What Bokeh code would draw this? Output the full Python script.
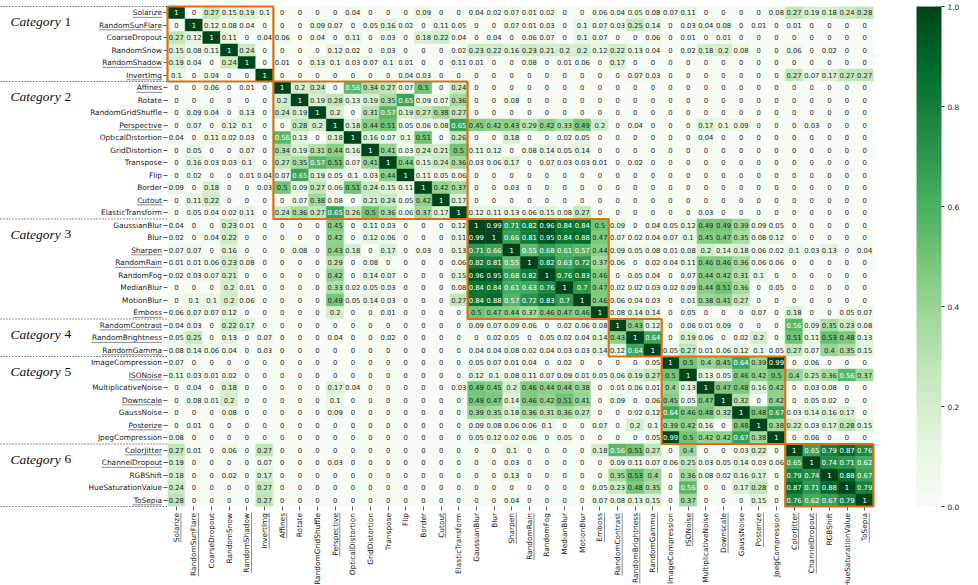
import math
import numpy as np
from bokeh.plotting import figure
from bokeh.models import (ColumnDataSource, LinearColorMapper, ColorBar, FixedTicker,
                          Range1d, PrintfTickFormatter)
from bokeh.core.properties import value
from bokeh.embed import file_html
from bokeh.resources import INLINE

# ---------------- data ----------------
labels = ["Solarize", "RandomSunFlare", "CoarseDropout", "RandomSnow", "RandomShadow", "InvertImg",
          "Affines", "Rotate", "RandomGridShuffle", "Perspective", "OpticalDistortion", "GridDistortion",
          "Transpose", "Flip", "Border", "Cutout", "ElasticTransform",
          "GaussianBlur", "Blur", "Sharpen", "RandomRain", "RandomFog", "MedianBlur", "MotionBlur", "Emboss",
          "RandomContrast", "RandomBrightness", "RandomGamma",
          "ImageCompression", "ISONoise", "MultiplicativeNoise", "Downscale", "GaussNoise", "Posterize",
          "JpegCompression",
          "ColorJitter", "ChannelDropout", "RGBShift", "HueSaturationValue", "ToSepia"]

underlined = ["Solarize", "RandomSunFlare", "RandomShadow", "InvertImg", "Affines", "Perspective", "Cutout",
              "Sharpen", "RandomRain", "Emboss", "RandomContrast", "RandomBrightness", "RandomGamma",
              "ISONoise", "Downscale", "Posterize", "ColorJitter", "ChannelDropout", "ToSepia"]

category_names = ["Category", "Category", "Category", "Category", "Category", "Category"]
category_numbers = ["1", "2", "3", "4", "5", "6"]
category_first = [0, 6, 17, 25, 28, 35]
category_last = [5, 16, 24, 27, 34, 39]

colorbar_ticks = [0.0, 0.2, 0.4, 0.6, 0.8, 1.0]

# lower triangle of the (symmetric) matrix, one row per label
lower_rows = [
    [1],
    [0, 1],
    [0.27, 0.12, 1],
    [0.15, 0.08, 0.11, 1],
    [0.19, 0.04, 0, 0.24, 1],
    [0.1, 0, 0.04, 0, 0, 1],
    [0, 0, 0.06, 0, 0.01, 0, 1],
    [0, 0, 0, 0, 0, 0, 0.2, 1],
    [0, 0.09, 0.04, 0, 0.13, 0, 0.24, 0.19, 1],
    [0, 0.07, 0, 0.12, 0.1, 0, 0, 0.28, 0.2, 1],
    [0.04, 0, 0.11, 0.02, 0.03, 0, 0.56, 0.13, 0, 0.18, 1],
    [0, 0.05, 0, 0, 0.07, 0, 0.34, 0.19, 0.31, 0.44, 0.16, 1],
    [0, 0.16, 0.03, 0.03, 0.1, 0, 0.27, 0.35, 0.57, 0.51, 0.07, 0.41, 1],
    [0, 0.02, 0, 0, 0.01, 0.04, 0.07, 0.65, 0.19, 0.05, 0.1, 0.03, 0.44, 1],
    [0.09, 0, 0.18, 0, 0, 0.03, 0.5, 0.09, 0.27, 0.06, 0.51, 0.24, 0.15, 0.11, 1],
    [0, 0.11, 0.22, 0, 0, 0, 0, 0.07, 0.38, 0.08, 0, 0.21, 0.24, 0.05, 0.42, 1],
    [0, 0.05, 0.04, 0.02, 0.11, 0, 0.24, 0.36, 0.27, 0.65, 0.26, 0.5, 0.36, 0.06, 0.37, 0.17, 1],
    [0.04, 0, 0, 0.23, 0.01, 0, 0, 0, 0, 0.45, 0, 0.11, 0.03, 0, 0, 0, 0.12, 1],
    [0.02, 0, 0.04, 0.22, 0, 0, 0, 0, 0, 0.42, 0, 0.12, 0.06, 0, 0, 0, 0.11, 0.99, 1],
    [0.07, 0.07, 0, 0.16, 0, 0, 0, 0.08, 0, 0.43, 0.18, 0, 0.17, 0, 0.03, 0, 0.13, 0.71, 0.66, 1],
    [0.01, 0.01, 0.06, 0.23, 0.08, 0, 0, 0, 0, 0.29, 0, 0.08, 0, 0, 0, 0, 0.06, 0.82, 0.81, 0.55, 1],
    [0.02, 0.03, 0.07, 0.21, 0, 0, 0, 0, 0, 0.42, 0, 0.14, 0.07, 0, 0, 0, 0.15, 0.96, 0.95, 0.68, 0.82, 1],
    [0, 0, 0, 0.2, 0.01, 0, 0, 0, 0, 0.33, 0.02, 0.05, 0.03, 0, 0, 0, 0.08, 0.84, 0.84, 0.61, 0.63, 0.76, 1],
    [0, 0.1, 0.1, 0.2, 0.06, 0, 0, 0, 0, 0.49, 0.05, 0.14, 0.03, 0, 0, 0, 0.27, 0.84, 0.88, 0.57, 0.72, 0.83,
     0.7, 1],
    [0.06, 0.07, 0.07, 0.12, 0, 0, 0, 0, 0, 0.2, 0, 0, 0.01, 0, 0, 0, 0, 0.5, 0.47, 0.44, 0.37, 0.46, 0.47,
     0.46, 1],
    [0.04, 0.03, 0, 0.22, 0.17, 0, 0, 0, 0, 0, 0, 0, 0, 0, 0, 0, 0, 0.09, 0.07, 0.09, 0.06, 0, 0.02, 0.06,
     0.08, 1],
    [0.05, 0.25, 0, 0.13, 0, 0.07, 0, 0, 0, 0.04, 0, 0, 0.02, 0, 0, 0, 0, 0, 0.02, 0.05, 0, 0.05, 0.02, 0.04,
     0.14, 0.43, 1],
    [0.08, 0.14, 0.06, 0.04, 0, 0.03, 0, 0, 0, 0, 0, 0, 0, 0, 0, 0, 0, 0.04, 0.04, 0.08, 0.02, 0.04, 0.03,
     0.03, 0.14, 0.12, 0.64, 1],
    [0.07, 0, 0, 0, 0, 0, 0, 0, 0, 0, 0, 0, 0, 0, 0, 0, 0, 0.05, 0.07, 0.01, 0.04, 0, 0.02, 0, 0, 0, 0,
     0.05, 1],
    [0.11, 0.03, 0.01, 0.02, 0, 0, 0, 0, 0, 0, 0, 0, 0, 0, 0, 0, 0, 0.12, 0.1, 0.08, 0.11, 0.07, 0.09, 0.01,
     0.05, 0.06, 0.19, 0.27, 0.5, 1],
    [0, 0.04, 0, 0.18, 0, 0, 0, 0, 0, 0.17, 0.04, 0, 0, 0, 0, 0, 0.03, 0.49, 0.45, 0.2, 0.46, 0.44, 0.44,
     0.38, 0, 0.01, 0.06, 0.01, 0.4, 0.13, 1],
    [0, 0.08, 0.01, 0.2, 0, 0, 0, 0, 0, 0.1, 0, 0, 0, 0, 0, 0, 0, 0.49, 0.47, 0.14, 0.46, 0.42, 0.51, 0.41,
     0, 0.09, 0, 0.06, 0.45, 0.05, 0.47, 1],
    [0, 0, 0, 0.08, 0, 0, 0, 0, 0, 0.09, 0, 0, 0, 0, 0, 0, 0, 0.39, 0.35, 0.18, 0.36, 0.31, 0.36, 0.27, 0,
     0, 0.02, 0.12, 0.64, 0.46, 0.48, 0.32, 1],
    [0, 0.01, 0, 0, 0, 0, 0, 0, 0, 0, 0, 0, 0, 0, 0, 0, 0, 0.09, 0.08, 0.06, 0.06, 0.1, 0, 0, 0.07, 0, 0.2,
     0.1, 0.39, 0.42, 0.16, 0, 0.48, 1],
    [0.08, 0, 0, 0, 0, 0, 0, 0, 0, 0, 0, 0, 0, 0, 0, 0, 0, 0.05, 0.12, 0.02, 0.06, 0, 0.05, 0, 0, 0, 0,
     0.05, 0.99, 0.5, 0.42, 0.42, 0.67, 0.38, 1],
    [0.27, 0.01, 0, 0.06, 0, 0.27, 0, 0, 0, 0, 0, 0, 0, 0, 0, 0, 0, 0, 0, 0.1, 0, 0, 0, 0, 0.18, 0.56, 0.51,
     0.27, 0, 0.4, 0, 0, 0.03, 0.22, 0, 1],
    [0.19, 0, 0, 0, 0, 0.07, 0, 0, 0, 0.03, 0, 0, 0, 0, 0, 0, 0, 0, 0, 0.03, 0, 0, 0, 0, 0, 0.09, 0.11,
     0.07, 0.06, 0.25, 0.03, 0.05, 0.14, 0.03, 0.06, 0.65, 1],
    [0.18, 0, 0, 0.02, 0, 0.17, 0, 0, 0, 0, 0, 0, 0, 0, 0, 0, 0, 0, 0, 0.13, 0, 0, 0, 0, 0, 0.35, 0.53,
     0.4, 0, 0.36, 0.08, 0.02, 0.16, 0.17, 0, 0.79, 0.74, 1],
    [0.24, 0, 0, 0, 0, 0.27, 0, 0, 0, 0, 0, 0, 0, 0, 0, 0, 0, 0, 0, 0, 0, 0, 0, 0, 0.05, 0.23, 0.48,
     0.35, 0, 0.56, 0, 0, 0.17, 0.28, 0, 0.87, 0.71, 0.88, 1],
    [0.28, 0, 0, 0, 0, 0.27, 0, 0, 0, 0, 0, 0, 0, 0, 0, 0, 0, 0, 0, 0.04, 0, 0, 0, 0, 0.07, 0.08, 0.13,
     0.15, 0, 0.37, 0, 0, 0, 0.15, 0, 0.76, 0.62, 0.67, 0.79, 1],
]

N = len(labels)
M = np.zeros((N, N))
for i, row in enumerate(lower_rows):
    for j, v in enumerate(row):
        M[i, j] = v
        M[j, i] = v

# ---------------- styling helpers ----------------
greens_stops = ['#f7fcf5', '#e5f5e0', '#c7e9c0', '#a1d99b', '#74c476',
                '#41ab5d', '#238b45', '#006d2c', '#00441b']


def hex2rgb(h):
    return tuple(int(h[k:k + 2], 16) for k in (1, 3, 5))


pal_rgb = []
for k in range(256):
    t = k / 255 * 8
    i0 = min(int(t), 7)
    f = t - i0
    a = hex2rgb(greens_stops[i0])
    b = hex2rgb(greens_stops[i0 + 1])
    pal_rgb.append(tuple(a[c] + (b[c] - a[c]) * f for c in range(3)))
palette = ['#%02x%02x%02x' % tuple(int(round(c)) for c in rgb) for rgb in pal_rgb]


def rel_lum(rgb):
    out = []
    for c in rgb:
        c = c / 255
        out.append(c / 12.92 if c <= 0.03928 else ((c + 0.055) / 1.055) ** 2.4)
    return 0.2126 * out[0] + 0.7152 * out[1] + 0.0722 * out[2]


# DejaVu Sans advance widths (per 1000 em)
CW = dict(zip("ABCDEFGHIJKLMNOPQRSTUVWXYZ",
              [684, 686, 698, 770, 632, 575, 775, 752, 295, 295, 656, 557, 863, 748, 787, 603, 787, 695,
               635, 611, 732, 684, 989, 685, 611, 685]))
CW.update(dict(zip("abcdefghijklmnopqrstuvwxyz",
                   [613, 635, 550, 635, 615, 352, 635, 634, 278, 278, 579, 278, 974, 634, 612, 635, 635, 411,
                    521, 392, 634, 592, 818, 592, 592, 525])))


def text_w(s, fs):
    return sum(CW.get(ch, 600) for ch in s) * fs / 1000.0


# ---------------- geometry ----------------
W, H = 978, 585
FL, FT, FW, FH = 167, 6, 706, 500
SX, SY = FW / N, FH / N
LBL_FS = 7.4
LBL_GAP = 5.5
UL_OFF = 4.6

p = figure(width=W, height=H, output_backend="svg", toolbar_location=None,
           x_range=Range1d(-0.5, N - 0.5), y_range=Range1d(N - 0.5, -0.5),
           min_border_left=FL, min_border_top=FT, min_border_right=W - FL - FW,
           min_border_bottom=H - FT - FH)
p.outline_line_color = None
p.grid.visible = False
p.background_fill_color = "white"
p.border_fill_color = "white"

for ax in (p.xaxis[0], p.yaxis[0]):
    ax.ticker = FixedTicker(ticks=list(range(N)))
    ax.major_label_overrides = {i: "" for i in range(N)}
    ax.axis_line_color = None
    ax.major_tick_in = 0
    ax.major_tick_out = 4
    ax.major_tick_line_color = "#333333"
    ax.major_tick_line_width = 0.8
    ax.minor_tick_line_color = None

mapper = LinearColorMapper(palette=palette, low=0, high=1)

xs, ys, vs, ts, tcs = [], [], [], [], []
for i in range(N):
    for j in range(N):
        v = float(M[i, j])
        xs.append(j)
        ys.append(i)
        vs.append(v)
        ts.append(format(v, ".2g"))
        idx = min(int(v * 256), 255)
        tcs.append("#262626" if rel_lum(pal_rgb[idx]) > 0.408 else "#ffffff")

src = ColumnDataSource(dict(x=xs, y=ys, v=vs, t=ts, tc=tcs))
p.rect(x="x", y="y", width=1, height=1, source=src,
       fill_color={"field": "v", "transform": mapper},
       line_color={"field": "v", "transform": mapper}, line_width=0.5)
p.text(x="x", y="y", text="t", source=src, text_color="tc", text_align="center",
       text_baseline="middle", text_font=value("DejaVu Sans"), text_font_size="6.8px")

# category boxes
ORANGE = "#d5731c"
p.quad(left=[a - 0.5 for a in category_first], right=[b + 0.5 for b in category_last],
       top=[a - 0.5 for a in category_first], bottom=[b + 0.5 for b in category_last],
       fill_alpha=0, line_color=ORANGE, line_width=2.2, level="overlay")

# row labels
p.text(x=[-0.5] * N, y=list(range(N)), text=labels, x_offset=-LBL_GAP, text_align="right",
       text_baseline="middle", text_font=value("DejaVu Sans"), text_font_size=f"{LBL_FS}px",
       text_color="#1a1a1a", level="overlay")
# column labels
p.text(x=list(range(N)), y=[N - 0.5] * N, text=labels, y_offset=LBL_GAP + 1, angle=math.pi / 2,
       text_align="right", text_baseline="middle", text_font=value("DejaVu Sans"),
       text_font_size=f"{LBL_FS}px", text_color="#1a1a1a", level="overlay")

# underlines
rx0, rx1, ry, cx, cy0, cy1 = [], [], [], [], [], []
for k, lab in enumerate(labels):
    if lab in underlined:
        w = text_w(lab, LBL_FS)
        rx0.append(-0.5 - (LBL_GAP + w) / SX)
        rx1.append(-0.5 - LBL_GAP / SX)
        ry.append(k + UL_OFF / SY)
        cx.append(k + UL_OFF / SX)
        cy0.append(N - 0.5 + (LBL_GAP + 1) / SY)
        cy1.append(N - 0.5 + (LBL_GAP + 1 + w) / SY)
p.segment(x0=rx0, x1=rx1, y0=ry, y1=ry, line_color="#8c8c8c", line_width=1, level="overlay")
p.segment(x0=cx, x1=cx, y0=cy0, y1=cy1, line_color="#8c8c8c", line_width=1, level="overlay")

# dotted separators on the left
bounds = category_first + [N]
p.segment(x0=[-12] * len(bounds), x1=[-0.5] * len(bounds), y0=[b - 0.5 for b in bounds],
          y1=[b - 0.5 for b in bounds], line_color="#222222", line_width=1, line_dash="1 2",
          level="overlay")

# category labels
cat_x = -0.5 - (FL - 10) / SX
p.text(x=[cat_x] * 6, y=[a + 0.7 for a in category_first], text=category_names,
       text_font=value("Liberation Serif"), text_font_style="italic", text_font_size="13.5px",
       text_align="left", text_baseline="middle", text_color="#111111", level="overlay")
p.text(x=[cat_x] * 6, y=[a + 0.7 for a in category_first], text=category_numbers, x_offset=54,
       text_font=value("Liberation Serif"), text_font_size="13.5px",
       text_align="left", text_baseline="middle", text_color="#111111", level="overlay")

cb = ColorBar(color_mapper=mapper, ticker=FixedTicker(ticks=colorbar_ticks),
              formatter=PrintfTickFormatter(format="%.1f"), width=25, padding=0, margin=0,
              location=(43, 0), major_tick_in=0, major_tick_out=3, major_tick_line_color="#333333",
              major_label_text_font_size="7.4px", major_label_text_font="DejaVu Sans",
              major_label_text_color="#1a1a1a", label_standoff=3,
              bar_line_color=None, border_line_color=None, background_fill_alpha=0)
p.add_layout(cb, "right")

open("out.html", "w").write(file_html(p, INLINE))
